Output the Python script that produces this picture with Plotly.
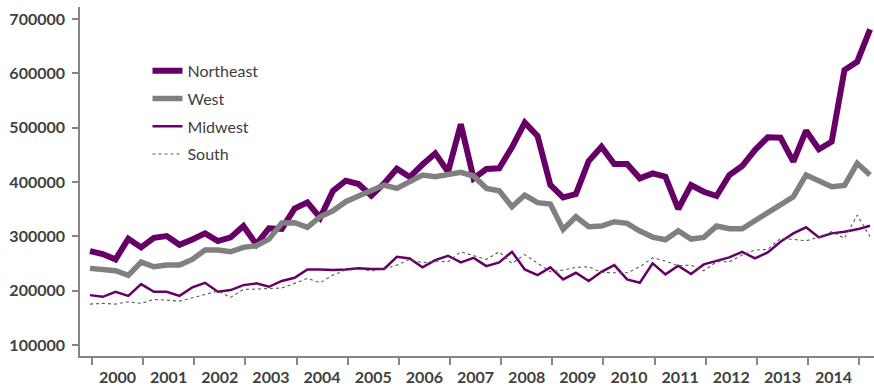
import plotly.graph_objects as go

years = [str(y) for y in range(2000, 2015)]

northeast = [273000, 267500, 257700, 295700, 279800, 297500, 300600, 284600, 294500, 305600,
             291400, 298200, 319000, 285300, 315000, 313800, 351000, 362600, 334300, 383500,
             402500, 396300, 374900, 397600, 424500, 409200, 432200, 452700, 419000, 506200,
             406800, 424000, 425200, 463900, 509200, 484700, 394500, 371800, 377900, 438700,
             465000, 433100, 433100, 406800, 416000, 409800, 350400, 394500, 382200, 374300,
             413000, 429500, 458900, 482300, 481600, 437400, 494400, 460200, 474200, 606200,
             621400, 681000]

west = [241200, 238000, 236800, 228300, 252800, 244100, 247200, 247200, 257700, 274900,
        274900, 271700, 279800, 282800, 295000, 324500, 325100, 316700, 336200, 347200,
        363800, 374300, 385300, 394500, 388400, 400600, 413000, 409800, 414800, 418000,
        411000, 388400, 384000, 354600, 376100, 362000, 359500, 312900, 336200, 317800,
        319000, 327000, 324000, 309800, 298700, 293900, 310400, 295100, 298200, 319000,
        314000, 314000, 328800, 344200, 357700, 373000, 413000, 402400, 391400, 393900,
        434400, 413000]

midwest = [192000, 188900, 198100, 190700, 212300, 198100, 198100, 190700, 206200, 214700,
           198100, 201200, 210400, 213600, 207300, 218000, 223900, 239300, 239300, 238000,
           239300, 241200, 240000, 240000, 262500, 259500, 243000, 256500, 264400, 252200,
           260500, 245400, 252200, 271700, 239300, 228800, 243000, 220900, 233100, 217800,
           234900, 247200, 220900, 214700, 250400, 230100, 246000, 230700, 248500, 254600,
           261400, 271700, 259500, 270600, 290100, 305600, 316700, 298200, 305600, 308600,
           313000, 319600]

south = [175500, 176800, 175500, 179700, 176800, 184100, 182800, 181000, 187100, 193900,
         199400, 187800, 202500, 203100, 204400, 205000, 213600, 222800, 214700, 228800,
         238000, 239900, 236200, 240000, 247200, 257700, 251500, 254600, 253300, 271700,
         264700, 257700, 271700, 250400, 266600, 250400, 234900, 238000, 243000, 244100,
         233800, 233100, 233100, 244100, 260500, 254900, 246000, 247200, 236800, 253300,
         253300, 265600, 274900, 276100, 296400, 294500, 292000, 298200, 308600, 296400,
         339300, 299300]

x = list(range(len(northeast)))
boundaries = [4 * j + 0.15 for j in range(len(years) + 1)]
centers = [4 * j + 2.15 for j in range(len(years))]

PURPLE = "#660066"
GRAY = "#808080"
TEXT = "#404040"
AXIS = "#868686"

fig = go.Figure()
fig.add_trace(go.Scatter(x=x, y=northeast, name="Northeast", mode="lines",
                         line=dict(color=PURPLE, width=6), legendgroup="a"))
fig.add_trace(go.Scatter(x=x, y=west, name="West", mode="lines",
                         line=dict(color=GRAY, width=5.5), legendgroup="b"))
fig.add_trace(go.Scatter(x=x, y=midwest, name="Midwest", mode="lines",
                         line=dict(color=PURPLE, width=2.5), legendgroup="c"))
fig.add_trace(go.Scatter(x=x, y=south, name="South", mode="lines",
                         line=dict(color="#595959", width=1.1, dash="3px,3px"), legendgroup="d"))

fig.update_layout(
    width=874, height=389,
    margin=dict(l=80, r=0, t=7, b=33),
    paper_bgcolor="white", plot_bgcolor="white",
    font=dict(family="Lato", color=TEXT),
    showlegend=True,
    legend=dict(x=0.085, y=0.866, xanchor="left", yanchor="top",
                font=dict(size=16, color=TEXT, family="Lato"),
                tracegroupgap=4, bgcolor="rgba(0,0,0,0)", itemwidth=30),
    xaxis=dict(range=[-0.78, 61.31], showgrid=False, zeroline=False,
               showline=True, linecolor=AXIS, linewidth=1.5,
               tickmode="array", tickvals=centers, ticktext=years, ticks="",
               tickfont=dict(size=16, color=TEXT, family="Lato", weight="bold"),
               ticklabelstandoff=6,
               minor=dict(tickmode="array", tickvals=boundaries, ticks="outside",
                          ticklen=7, tickcolor=AXIS, tickwidth=1.5, showgrid=False)),
    yaxis=dict(range=[80000, 722000], showgrid=False, zeroline=False,
               showline=True, linecolor=AXIS, linewidth=1.5,
               tickmode="array", tickvals=[100000, 200000, 300000, 400000, 500000, 600000, 700000],
               ticktext=["100000", "200000", "300000", "400000", "500000", "600000", "700000"],
               ticks="outside", ticklen=6, tickcolor=AXIS, tickwidth=1.5,
               tickfont=dict(size=16, color=TEXT, family="Lato", weight="bold"),
               ticklabelstandoff=4),
)

fig.write_html("out.html")
